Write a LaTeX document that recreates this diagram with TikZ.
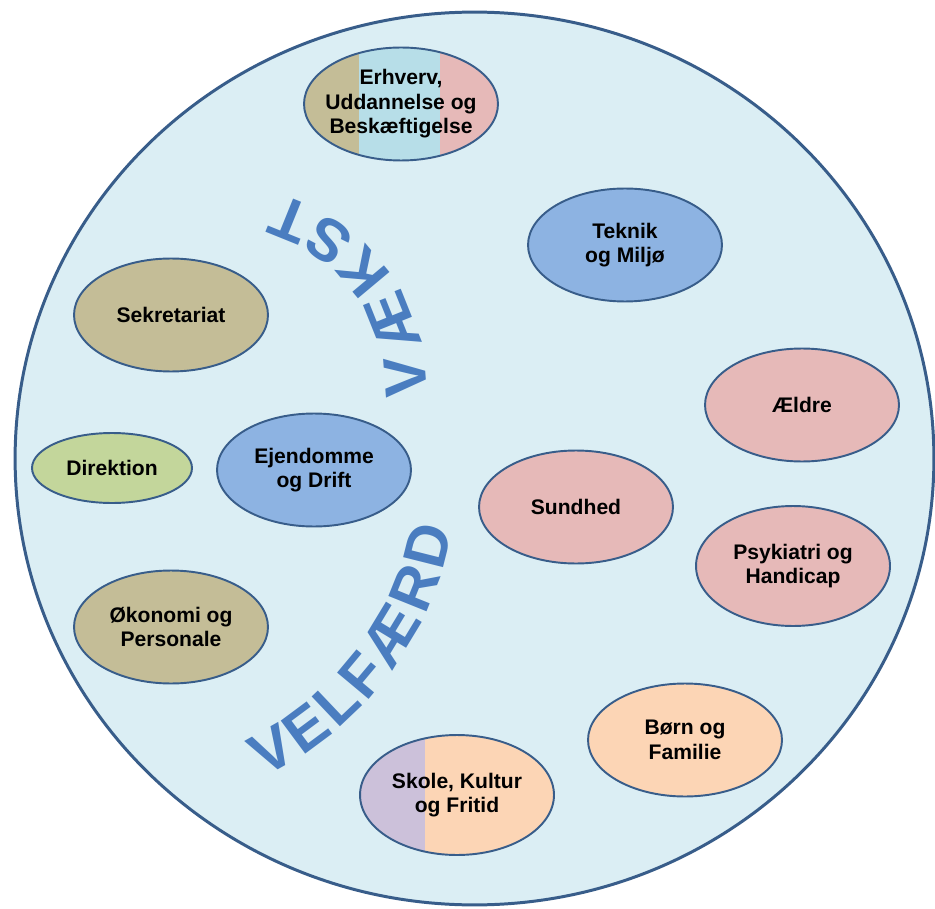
\documentclass[tikz,border=0pt]{standalone}
\usepackage{fontspec}
\setmainfont{Liberation Sans}
\usepackage{tikz}
\definecolor{PaleBlue}{HTML}{DBEEF4}
\definecolor{RimBlue}{HTML}{385D8A}
\definecolor{Tan}{HTML}{C4BD97}
\definecolor{Aqua}{HTML}{B7DEE8}
\definecolor{Rose}{HTML}{E6B9B8}
\definecolor{SkyBlue}{HTML}{8DB3E2}
\definecolor{Sage}{HTML}{C3D69B}
\definecolor{Peach}{HTML}{FCD5B5}
\definecolor{Lilac}{HTML}{CCC1DA}
\definecolor{ArtBlue}{HTML}{4A7DC0}
\usetikzlibrary{shapes.geometric,calc}

\begin{document}
\begin{tikzpicture}[x=0.02cm,y=-0.02cm,
        area/.style={ellipse,draw=RimBlue,line width=1.1pt,inner sep=0pt,minimum width=3.88cm,minimum height=2.26cm,align=center,font=\fontsize{12}{13.9}\selectfont\bfseries},
        letter/.style={inner sep=0pt,text=ArtBlue,font=\fontsize{34}{34}\selectfont\bfseries}]
            \useasboundingbox (0,0) rectangle (935,908);

            % Draw the municipality
            \node[ellipse,draw=RimBlue,fill=PaleBlue,line width=1.7pt,inner sep=0pt,minimum width=18.38cm,minimum height=17.86cm] (kommune) at (474.5,458.5) {};

            % Draw the areas
            \node[area,inner xsep=-0.3cm,path picture={
                \fill[Rose] (path picture bounding box.south west) rectangle (path picture bounding box.north east);
                \fill[Tan] (path picture bounding box.south west) rectangle ($(path picture bounding box.north west)+(55,0)$);
                \fill[Aqua] ($(path picture bounding box.south west)+(55,0)$) rectangle ($(path picture bounding box.north west)+(136,0)$);
            }] (erhverv) at (401,104) {Erhverv,\\Uddannelse og\\Beskæftigelse};
            \node[area,fill=SkyBlue] (teknik) at (625,245) {Teknik\\og Miljø};
            \node[area,fill=Tan] (sekretariat) at (171,315) {Sekretariat};
            \node[area,fill=Rose] (aeldre) at (802,405) {Ældre};
            \node[area,fill=Sage,minimum width=3.2cm,minimum height=1.4cm] (direktion) at (112,468) {Direktion};
            \node[area,fill=SkyBlue] (ejendomme) at (314,470) {Ejendomme\\og Drift};
            \node[area,fill=Rose] (sundhed) at (576,507) {Sundhed};
            \node[area,fill=Rose,minimum height=2.4cm] (psykiatri) at (793,566) {Psykiatri og\\Handicap};
            \node[area,fill=Tan] (oekonomi) at (171,627) {Økonomi og\\Personale};
            \node[area,fill=Peach] (boern) at (685,740) {Børn og\\Familie};
            \node[area,minimum height=2.4cm,path picture={
                \fill[Peach] (path picture bounding box.south west) rectangle (path picture bounding box.north east);
                \fill[Lilac] (path picture bounding box.south west) rectangle ($(path picture bounding box.north west)+(65,0)$);
            }] (skole) at (457,795) {Skole, Kultur\\og Fritid};

            % Draw the VÆKST arc
            \coordinate (vaekst) at (221,391);
            \foreach \ch/\ang[count=\i] in {V/4.3, Æ/21.8, K/39.9, S/54.5, T/68}{
                \node[letter,rotate=\ang+90] (v\i) at ($(vaekst)+({185*cos(\ang)},{-185*sin(\ang)})$) {\ch};
            }

            % Draw the VELFÆRD arc
            \coordinate (velfaerd) at (112,466);
            \foreach \ch/\ang[count=\i] in {V/-60.6, E/-53.4, L/-46.5, F/-39.9, Æ/-31.2, R/-21.9, D/-14.1}{
                \node[letter,rotate=\ang+90] (w\i) at ($(velfaerd)+({326*cos(\ang)},{-326*sin(\ang)})$) {\ch};
            }
        \end{tikzpicture}
\end{document}
